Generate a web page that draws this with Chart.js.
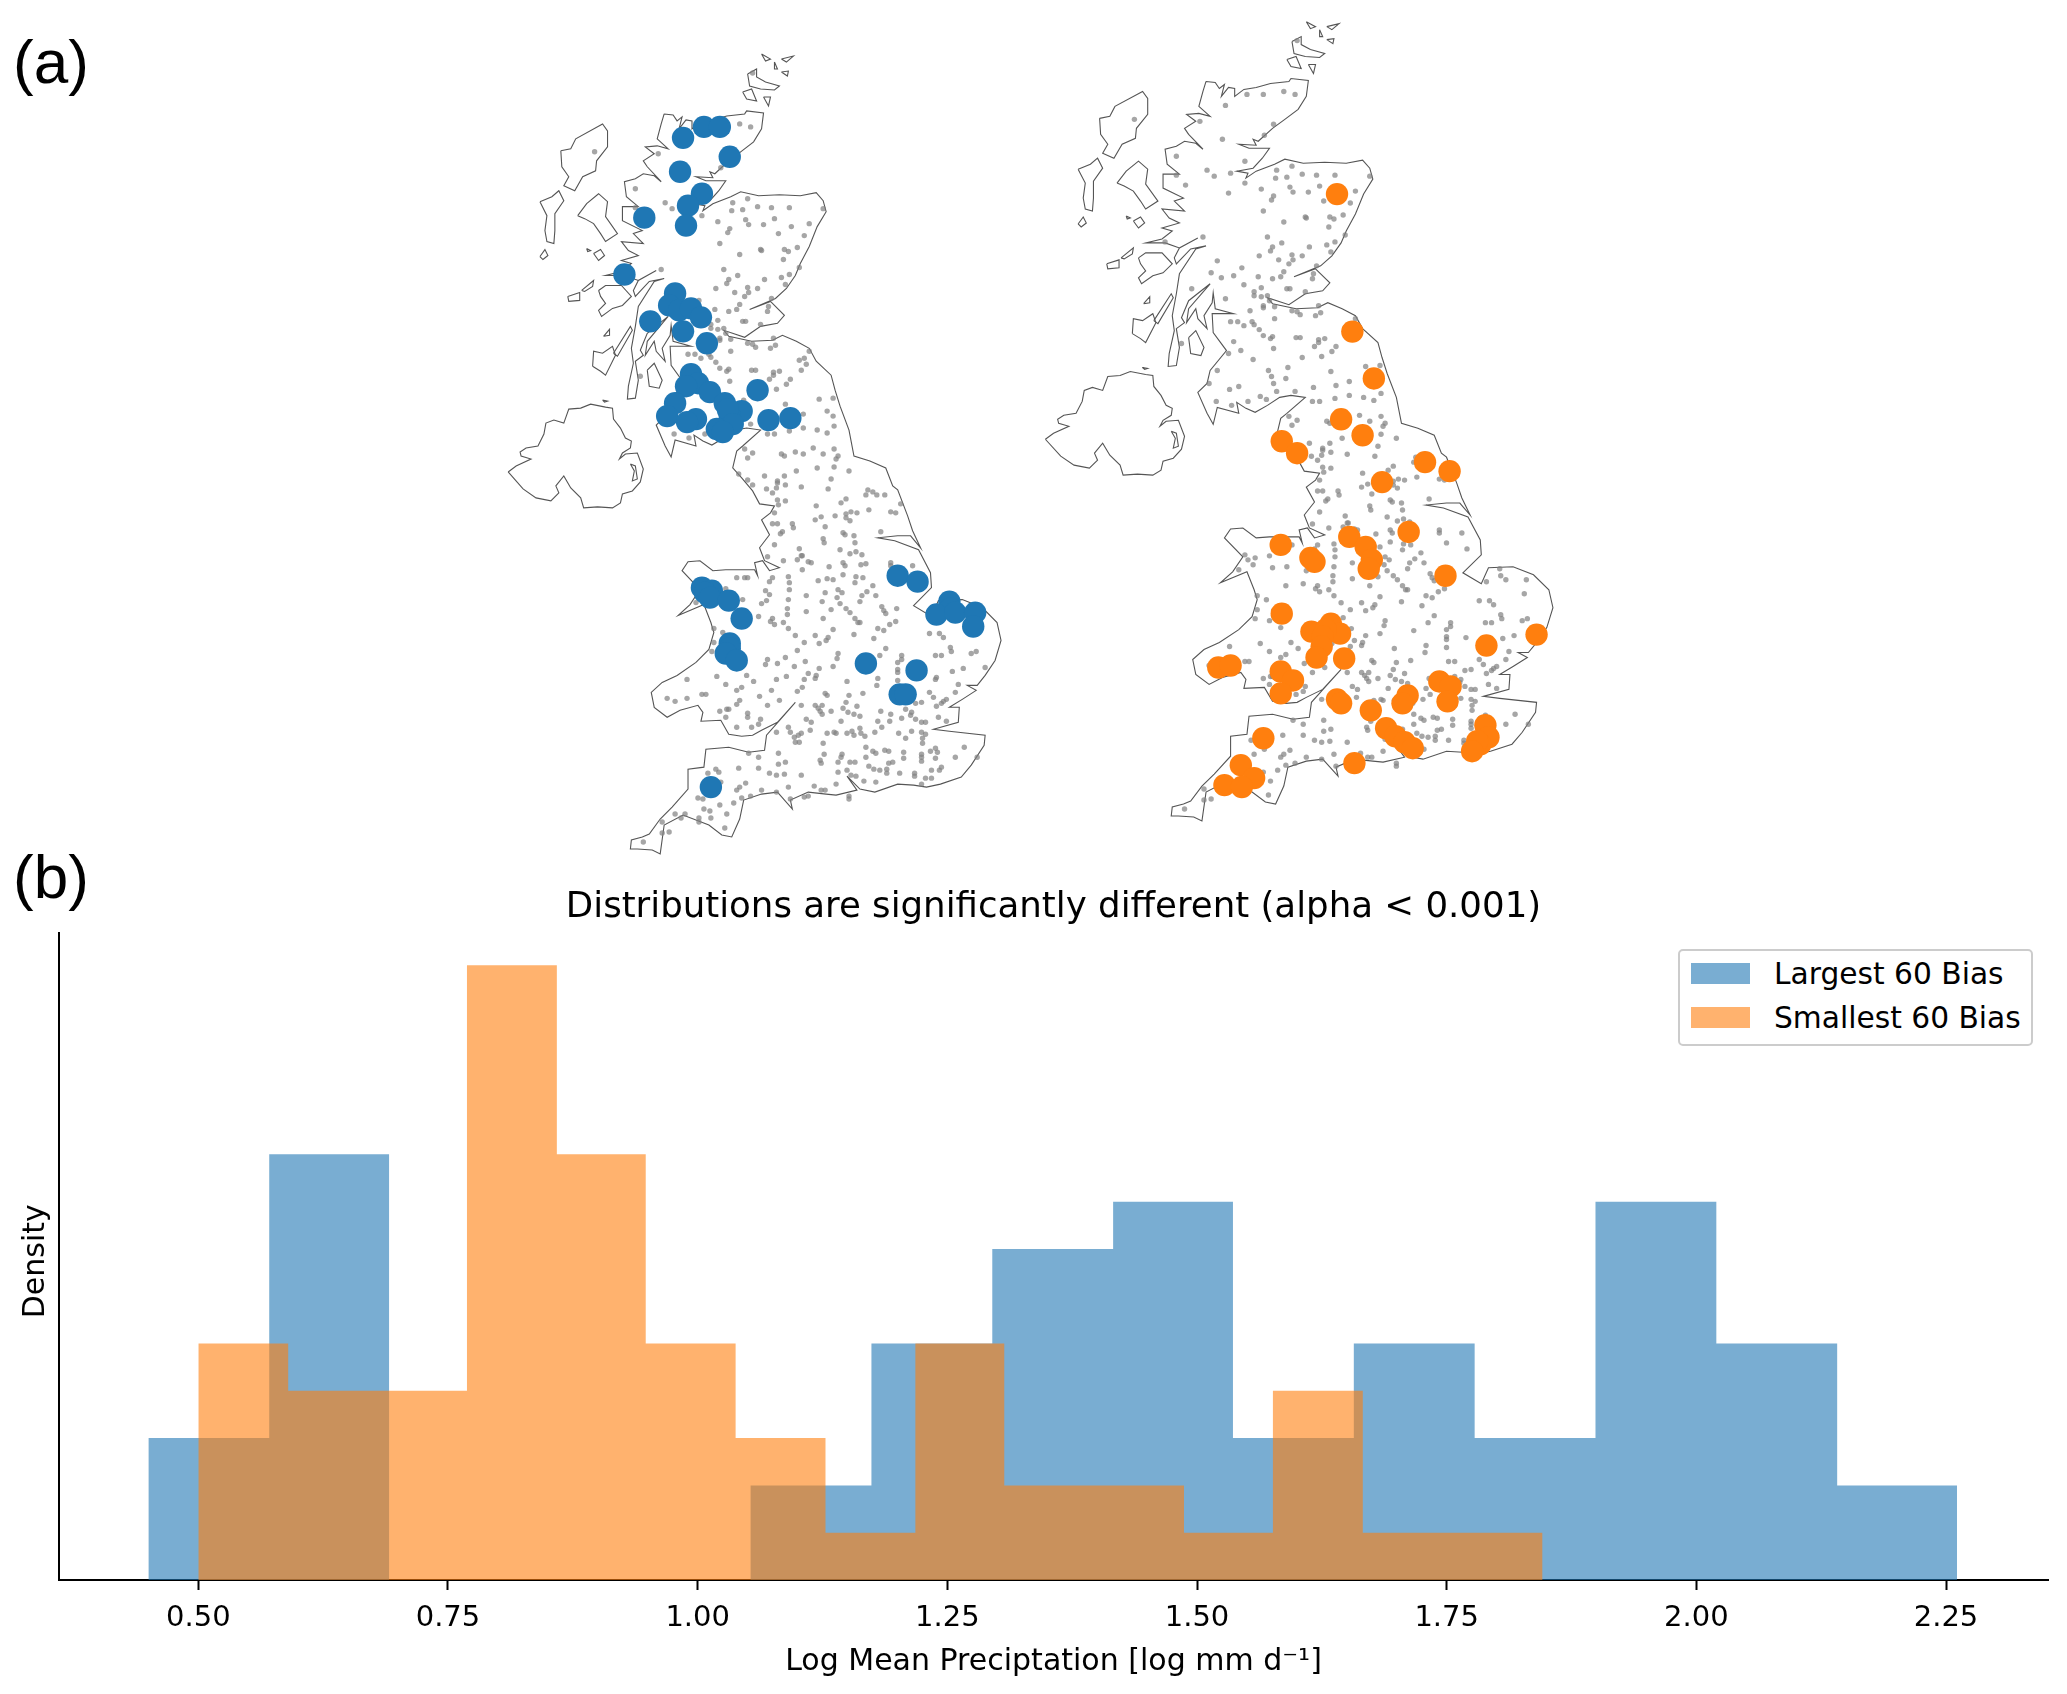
<!DOCTYPE html>
<html>
<head>
<meta charset="utf-8">
<title>Largest and smallest bias catchments</title>
<script src="https://cdn.jsdelivr.net/npm/chart.js@4"></script>
<style>
body { margin: 0; background: #fff; width: 2067px; height: 1694px; position: relative; overflow: hidden; }
canvas { position: absolute; }
#map-left { left: 490px; top: 0; }
#map-right { left: 1027px; top: 0; }
#hist { left: 0; top: 880px; }
.panel { position: absolute; left: 13px; font: 62px/70px "Liberation Sans", sans-serif; color: #000; }
#legend { position: absolute; left: 1678px; top: 949px; width: 351px; height: 93px; border: 2px solid #ccc; border-radius: 5px; background: #fff;
  font: 29.7px "DejaVu Sans", sans-serif; color: #000; }
#legend span { position: absolute; left: 94px; white-space: nowrap; line-height: 34px; }
#legend i { position: absolute; left: 11px; width: 59px; height: 21px; }
</style>
</head>
<body>
<canvas id="map-left" width="559" height="911"></canvas>
<canvas id="map-right" width="575" height="878"></canvas>
<canvas id="hist" width="2067" height="814"></canvas>
<div class="panel" style="top:27px">(a)</div>
<div class="panel" style="top:842px">(b)</div>
<div id="legend">
  <i style="top:12px;background:rgba(31,119,180,0.6)"></i><span style="top:6px">Largest 60 Bias</span>
  <i style="top:56px;background:rgba(255,127,14,0.6)"></i><span style="top:50px">Smallest 60 Bias</span>
</div>
<script>
// histogram bins
var largestEdges = [0.45, 0.571, 0.691, 0.812, 0.933, 1.053, 1.174, 1.295, 1.416, 1.536, 1.657, 1.778, 1.899, 2.02, 2.141, 2.261];
var largestCounts = [3, 9, 0, 0, 0, 2, 5, 7, 8, 3, 5, 3, 8, 5, 2];
var smallestEdges = [0.5, 0.59, 0.68, 0.769, 0.859, 0.948, 1.038, 1.128, 1.218, 1.307, 1.397, 1.487, 1.576, 1.666, 1.756, 1.846];
var smallestCounts = [5, 4, 4, 13, 9, 5, 3, 1, 5, 2, 2, 1, 4, 1, 1];
var xTickValues = [0.5, 0.75, 1.0, 1.25, 1.5, 1.75, 2.0, 2.25];

// map points are [easting, northing] in map units
var largestBias = [[204,775],[220,775],[183,764],[230,745],[180,730],[202,708],[188,696],[186,676],[144,684],[124,627],
  [175,608],[169,596],[179,591],[191,593],[201,584],[150,580],[183,570],[207,558],[191,527],[198,518],[186,515],[210,509],
  [258,511],[175,498],[167,485],[225,498],[242,490],[230,485],[228,492],[233,477],[196,482],[187,479],[269,481],[291,483],
  [217,472],[223,469],[202,313],[212,310],[205,308],[210,303],[229,300],[242,282],[399,325],[419,319],[451,299],[452,292],
  [438,286],[457,288],[477,288],[475,274],[230,257],[230,252],[226,247],[237,240],[367,237],[418,230],[401,206],[407,206],[211,113]];

var smallestBias = [[292,675],[307,537],[328,490],[296,449],[317,433],[238,427],[253,415],[336,386],[378,406],[402,397],
  [304,331],[320,321],[326,308],[323,299],[362,336],[398,292],[237,323],[266,310],[270,306],[238,254],[267,236],[286,244],
  [295,234],[281,238],[278,231],[277,221],[272,210],[299,209],[438,222],[487,233],[176,200],[188,202],[237,196],[249,187],
  [237,174],[292,168],[296,164],[325,157],[361,172],[356,164],[392,186],[403,181],[400,166],[437,142],[440,130],[432,123],
  [429,126],[424,116],[340,139],[349,131],[358,125],[366,119],[309,104],[220,129],[198,102],[211,89],[182,82],[199,80]];

var otherStations = [[253,829],[94,750],[158,748],[240,778],[251,775],[221,734],[135,713],[165,699],[172,693],[135,694],
  [202,686],[233,699],[248,703],[232,691],[243,692],[258,695],[272,694],[290,694],[324,693],[218,680],[246,682],[249,677],
  [264,677],[275,683],[292,675],[310,678],[230,673],[228,669],[279,668],[305,666],[220,658],[261,652],[262,651],[285,652],
  [289,650],[298,654],[240,647],[284,642],[300,634],[224,632],[161,632],[238,626],[290,627],[282,624],[265,622],[229,622],
  [227,618],[216,613],[248,614],[258,613],[286,617],[235,609],[249,609],[245,605],[272,603],[240,597],[269,595],[199,601],
  [215,592],[229,590],[237,592],[268,590],[243,580],[246,580],[261,577],[218,581],[211,577],[211,573],[218,572],[224,573],
  [226,568],[220,563],[220,561],[231,562],[248,558],[253,557],[256,554],[274,563],[276,556],[271,553],[231,550],[188,547],
  [195,547],[201,543],[209,547],[211,544],[216,539],[310,550],[300,541],[305,543],[307,537],[220,533],[227,530],[229,532],
  [252,531],[256,531],[274,529],[280,530],[274,526],[270,522],[302,531],[291,522],[230,520],[140,525],[287,517],[277,512],
  [320,502],[334,503],[286,497],[244,501],[328,490],[304,487],[334,485],[335,475],[251,477],[304,473],[318,471],[328,468],
  [290,470],[268,467],[275,467],[174,467],[189,463],[205,467],[245,452],[253,448],[282,447],[285,445],[296,449],[304,447],
  [314,453],[324,447],[335,452],[339,445],[337,442],[248,443],
  [318,433],[335,434],[297,430],[350,430],[239,427],[265,425],[285,425],[332,422],[248,421],[278,420],[278,418],[253,416],
  [286,416],[267,412],[302,414],[277,413],[329,412],[369,411],[374,409],[386,406],[378,406],[367,406],[273,408],[278,401],
  [286,400],[347,402],[342,398],[279,396],[317,395],[402,397],[370,391],[392,389],[397,388],[352,389],[358,388],[347,387],
  [336,385],[275,388],[316,381],[322,384],[347,383],[351,380],[273,377],[278,377],[293,377],[294,373],[326,374],[382,369],
  [283,369],[281,367],[344,368],[346,366],[355,365],[324,362],[325,358],[356,358],[275,356],[300,352],[341,351],[351,347],
  [357,349],[363,346],[268,344],[302,345],[303,345],[284,340],[298,341],[309,339],[312,338],[344,338],[346,335],[362,336],
  [367,337],[392,338],[392,335],[414,335],[330,334],[303,331],[344,326],[357,324],[364,323],[289,324],[273,323],[237,323],
  [245,323],[248,323],[319,320],[328,322],[334,321],[356,318],[290,318],[270,319],[374,315],[226,312],[290,311],[266,310],
  [270,306],[339,311],[343,308],[326,308],[368,309],[363,305],[377,305],[307,305],[338,303],[289,301],[267,300],[262,297],
  [323,299],[341,297],[361,299],[243,301],[196,298],[288,292],[383,294],[347,292],[332,291],[398,292],[307,289],[351,288],
  [385,290],[387,287],[288,286],[259,284],[356,282],[273,282],[324,282],[271,279],[359,278],[361,278],[284,278],[275,276],
  [397,279],[391,276],[385,270],[379,272],[334,271],[289,272],[214,272],[223,268],[296,265],[316,265],[355,266],[431,267],
  [441,267],[445,263],[375,262],[329,263],[327,260],[305,258],[320,257],[214,258],[387,252],[298,250],[339,247],[212,249],
  [452,253],[453,249],[473,247],[478,249],[437,245],[443,245],[381,245],[403,245],[403,241],[399,238],[338,242],[306,239],
  [286,243],[268,241],[266,236],[278,237],[295,234],[320,232],[334,234],[399,231],[399,228],[465,232],[487,233],[454,229],
  [309,227],[247,225],[217,224],[187,221],[254,219],[317,225],[316,222],[287,224],[277,221],[305,221],[348,219],[379,222],
  [438,223],[437,221],[399,220],[378,215],[460,216],[457,208],[226,216],[242,213],[237,210],[272,210],[303,213],[298,209],
  [206,206],[202,206],[167,202],[175,199],[187,202],[326,207],[328,205],[364,207],[350,205],[431,208],[435,203],[448,201],
  [445,199],[260,204],[280,200],[240,200],[237,196],[347,198],[423,198],[417,197],[443,197],[268,195],[302,195],[316,195],
  [323,195],[344,192],[358,194],[438,194],[319,192],[321,189],[332,189],[323,186],[349,188],[355,186],[361,184],[220,189],
  [227,191],[229,191],[382,189],[407,191],[413,188],[412,185],[392,186],[248,187],[248,183],[440,183],[226,183],[261,181],
  [417,181],[403,182],[307,181],[312,178],[342,179],[379,179],[391,179],[448,179],[423,178],[427,178],[259,176],[383,173],
  [237,173],[252,173],[289,173],[277,168],[311,170],[291,168],[361,172],[353,169],[348,167],[335,168],[337,167],[328,167],
  [302,167],[299,165],[295,163],[355,165],[362,167],[366,164],[376,168],[400,167],[413,169],[423,168],[427,166],[407,162],
  [424,162],[296,158],[300,158],[324,157],[424,157],[367,153],[466,153],[437,152],[432,149],[374,149],[386,150],[390,149],
  [377,147],[405,148],[439,148],[279,147],[249,147],[343,146],[325,146],[342,143],[259,143],[423,146],[457,143],[423,143],
  [479,143],[367,143],[405,142],[437,142],[423,139],[321,140],[322,137],[351,138],[356,138],[339,138],[394,138],[390,137],
  [279,136],[286,138],[370,134],[443,133],[441,130],[433,130],[375,131],[381,130],[388,131],[388,127],[348,130],[339,128],
  [239,132],[259,132],[216,131],[219,128],[208,127],[270,127],[277,125],[285,126],[302,125],[352,125],[357,124],[401,127],
  [416,127],[416,124],[423,116],[427,122],[433,122],[365,119],[377,118],[337,116],[221,118],[246,117],[240,113],[237,110],
  [289,113],[315,114],[322,110],[326,110],[262,110],[277,108],[309,104],[305,103],[251,104],[242,102],[234,97],[198,102],
  [203,101],[220,95],[291,101],[350,104],[350,101],[204,91],[210,89],[227,86],[175,86],[185,86],[181,82],[199,82],[211,82],
  [199,78],[162,78],[225,72],[162,67],[169,68],[143,58]];

var britainCoast = [[164,788],[173,787],[177,781],[182,785],[179,773],[186,782],[192,781],[192,773],[201,780],[213,782],
  [227,786],[245,788],[247,791],[264,789],[262,773],[254,760],[241,750],[229,741],[215,728],[210,730],[213,724],[196,725],
  [206,721],[226,721],[219,711],[210,701],[194,698],[205,696],[203,691],[213,698],[231,705],[241,710],[259,706],[280,707],
  [301,706],[317,709],[324,701],[327,690],[318,675],[310,655],[301,638],[296,626],[287,613],[276,603],[250,592],[271,600],
  [276,595],[285,586],[278,578],[261,575],[245,564],[224,571],[229,565],[252,560],[273,561],[283,566],[297,560],[310,553],
  [317,540],[332,526],[336,511],[341,495],[350,471],[355,445],[371,440],[387,433],[394,415],[399,411],[409,385],[414,370],
  [422,353],[412,365],[399,365],[379,363],[396,360],[420,351],[432,328],[433,313],[415,295],[433,284],[440,300],[464,301],
  [484,293],[499,278],[503,260],[497,240],[487,225],[479,215],[469,215],[478,210],[464,201],[451,193],[461,193],[460,178],
  [435,171],[451,169],[487,165],[486,155],[473,135],[463,123],[442,116],[428,113],[415,115],[399,116],[376,108],[361,111],
  [348,124],[358,110],[337,105],[327,106],[309,108],[291,100],[293,91],[278,108],[262,106],[244,100],[240,81],[232,63],
  [222,65],[209,75],[183,85],[164,75],[160,46],[152,50],[137,51],[130,51],[131,60],[142,63],[149,66],[160,81],[172,93],
  [188,111],[188,131],[204,133],[206,151],[229,153],[249,148],[265,150],[267,165],[281,181],[296,198],[278,178],[262,170],
  [253,165],[242,164],[229,166],[221,180],[201,179],[203,188],[198,195],[180,190],[167,183],[154,193],[151,208],[162,218],
  [177,225],[196,238],[209,251],[214,268],[211,278],[204,296],[178,285],[190,296],[200,311],[182,330],[188,339],[200,340],
  [213,330],[226,331],[255,331],[258,325],[255,338],[263,340],[270,330],[280,333],[265,340],[260,353],[270,366],[262,381],
  [271,388],[275,395],[260,397],[253,410],[242,423],[233,433],[237,450],[243,455],[261,471],[247,473],[236,471],[224,463],
  [212,456],[203,460],[194,466],[196,455],[175,461],[171,444],[165,455],[156,476],[165,485],[168,498],[184,518],[171,536],
  [170,555],[191,555],[173,560],[171,576],[170,566],[162,553],[165,540],[156,550],[154,560],[145,546],[147,560],[168,585],
  [147,568],[140,551],[143,546],[135,540],[138,521],[135,503],[127,502],[128,515],[133,538],[131,553],[135,575],[138,595],
  [154,620],[164,623],[149,620],[135,605],[133,611],[138,621],[156,631],[138,621],[124,626],[105,626],[121,630],[131,638],
  [121,641],[138,646],[128,651],[121,660],[143,658],[133,668],[142,671],[122,681],[122,695],[138,695],[126,705],[124,720],
  [135,723],[143,728],[154,726],[161,720],[147,735],[143,741],[154,748],[145,755],[157,756],[168,753],[157,763],[161,778],[164,788]];

var irelandCoast = [[7,429],[15,435],[30,442],[20,445],[19,449],[25,453],[37,455],[43,467],[45,478],[53,481],[63,478],
  [68,492],[80,493],[90,497],[105,494],[112,493],[113,482],[120,473],[125,463],[131,460],[130,453],[122,448],[119,442],
  [125,447],[137,448],[143,432],[140,419],[132,410],[122,407],[120,398],[112,393],[97,394],[83,393],[80,403],[70,413],
  [63,425],[55,415],[58,408],[50,400],[35,403],[22,412],[7,429]];

var islandCoasts = [
  [[98,611],[105,616],[121,616],[131,605],[122,596],[112,593],[101,585],[98,591],[105,598],[100,605],[98,611]],
  [[77,686],[86,698],[98,708],[107,700],[105,685],[117,668],[105,660],[100,668],[93,678],[84,683],[77,686]],
  [[60,751],[70,753],[75,763],[102,778],[107,771],[107,755],[96,741],[95,731],[82,725],[74,711],[63,716],[68,725],[61,735],[60,751]],
  [[39,700],[51,705],[58,711],[63,701],[54,688],[54,671],[53,658],[46,660],[44,671],[46,686],[39,700]],
  [[39,645],[44,652],[47,646],[42,642],[39,645]],
  [[67,605],[79,609],[79,601],[68,600],[67,605]],
  [[81,611],[93,621],[92,615],[84,610],[81,611]],
  [[93,648],[100,652],[104,646],[98,641],[93,648]],
  [[86,653],[90,651],[87,650],[86,653]],
  [[92,535],[93,550],[102,548],[112,555],[115,546],[105,526],[100,530],[92,535]],
  [[113,548],[130,575],[132,571],[117,545],[113,548]],
  [[103,565],[109,572],[109,566],[103,565]],
  [[147,531],[154,538],[162,521],[159,513],[149,515],[147,531]],
  [[248,828],[257,833],[257,825],[266,820],[280,816],[275,812],[261,813],[250,816],[248,828]],
  [[243,810],[252,813],[257,801],[247,803],[243,810]],
  [[264,805],[271,805],[269,796],[264,805]],
  [[262,848],[271,843],[266,841],[262,848]],
  [[275,840],[278,833],[275,833],[275,840]],
  [[282,843],[294,846],[287,840],[282,843]],
  [[282,830],[289,831],[288,826],[282,830]],
  [[130,437],[135,435],[137,422],[132,420],[134,430],[130,437]],
  [[102,501],[107,500],[104,499],[102,501]]
];

function toXY(list) {
    return list.map(function (p) { return { x: p[0], y: p[1] }; });
}

function coastDataset(list) {
    return {
        data: toXY(list),
        showLine: true,
        borderColor: '#555',
        borderWidth: 1.1,
        pointRadius: 0,
        order: 3
    };
}

function drawMap(id, highlight, color, topNorthing) {
    var coasts = [britainCoast, irelandCoast].concat(islandCoasts);
    var datasets = coasts.map(coastDataset);
    datasets.push({
        data: toXY(otherStations.concat(largestBias)),
        backgroundColor: 'rgba(128,128,128,0.7)',
        borderWidth: 0,
        pointRadius: 2.7,
        order: 2
    });
    datasets.push({
        data: toXY(highlight),
        backgroundColor: color,
        borderWidth: 0,
        pointRadius: 11.2,
        order: 1
    });
    new Chart(document.getElementById(id), {
        type: 'scatter',
        data: { datasets: datasets },
        options: {
            responsive: false,
            animation: false,
            events: [],
            layout: { padding: 0 },
            plugins: { legend: { display: false }, tooltip: { enabled: false } },
            scales: {
                x: { type: 'linear', display: false, min: 0, max: 540 },
                y: { type: 'linear', display: false, min: 0, max: topNorthing }
            }
        }
    });
}

function histDataset(edges, counts, color) {
    var data = counts.map(function (c, i) { return { x: edges[i], y: c }; });
    data.push({ x: edges[edges.length - 1], y: 0 });
    return {
        data: data,
        showLine: true,
        stepped: 'before',
        fill: 'origin',
        backgroundColor: color,
        borderWidth: 0,
        pointRadius: 0
    };
}

function drawHistogram() {
    new Chart(document.getElementById('hist'), {
        type: 'scatter',
        data: {
            datasets: [
                Object.assign(histDataset(smallestEdges, smallestCounts, 'rgba(255,127,14,0.6)'), { order: 1 }),
                Object.assign(histDataset(largestEdges, largestCounts, 'rgba(31,119,180,0.6)'), { order: 2 })
            ]
        },
        options: {
            responsive: false,
            animation: false,
            events: [],
            layout: { padding: { left: 0, right: 18.5, top: 0, bottom: 0 } },
            plugins: {
                legend: { display: false },
                tooltip: { enabled: false },
                title: {
                    display: true,
                    fullSize: false,
                    text: 'Distributions are significantly different (alpha < 0.001)',
                    color: '#000',
                    font: { family: 'DejaVu Sans', size: 35.6, weight: 'normal' },
                    padding: { top: 6.5, bottom: 3.8 }
                }
            },
            scales: {
                x: {
                    type: 'linear',
                    min: 0.36,
                    max: 2.3526,
                    afterBuildTicks: function (axis) {
                        axis.ticks = xTickValues.map(function (v) { return { value: v }; });
                    },
                    afterFit: function (axis) { axis.height = 114; },
                    border: { color: '#000', width: 2 },
                    grid: { drawOnChartArea: false, drawTicks: true, tickLength: 10, tickColor: '#000', tickWidth: 2 },
                    ticks: {
                        autoSkip: false,
                        maxRotation: 0,
                        color: '#000',
                        padding: 11,
                        font: { family: 'DejaVu Sans', size: 29 },
                        callback: function (v) { return v.toFixed(2); }
                    },
                    title: {
                        display: true,
                        text: 'Log Mean Preciptation [log mm d⁻¹]',
                        color: '#000',
                        font: { family: 'DejaVu Sans', size: 30 },
                        padding: { top: 6, bottom: 14 }
                    }
                },
                y: {
                    type: 'linear',
                    min: 0,
                    max: 13.68,
                    afterBuildTicks: function (axis) { axis.ticks = []; },
                    afterFit: function (axis) { axis.width = 58.5; },
                    border: { color: '#000', width: 2 },
                    grid: { display: false },
                    ticks: { display: false },
                    title: {
                        display: true,
                        text: 'Density ',
                        color: '#000',
                        font: { family: 'DejaVu Sans', size: 30 },
                        padding: { top: 18, bottom: 0 }
                    }
                }
            }
        }
    });
}

drawMap('map-left', largestBias, '#1f77b4', 891);
drawMap('map-right', smallestBias, '#ff7f0e', 858.5);
drawHistogram();
</script>
</body>
</html>
